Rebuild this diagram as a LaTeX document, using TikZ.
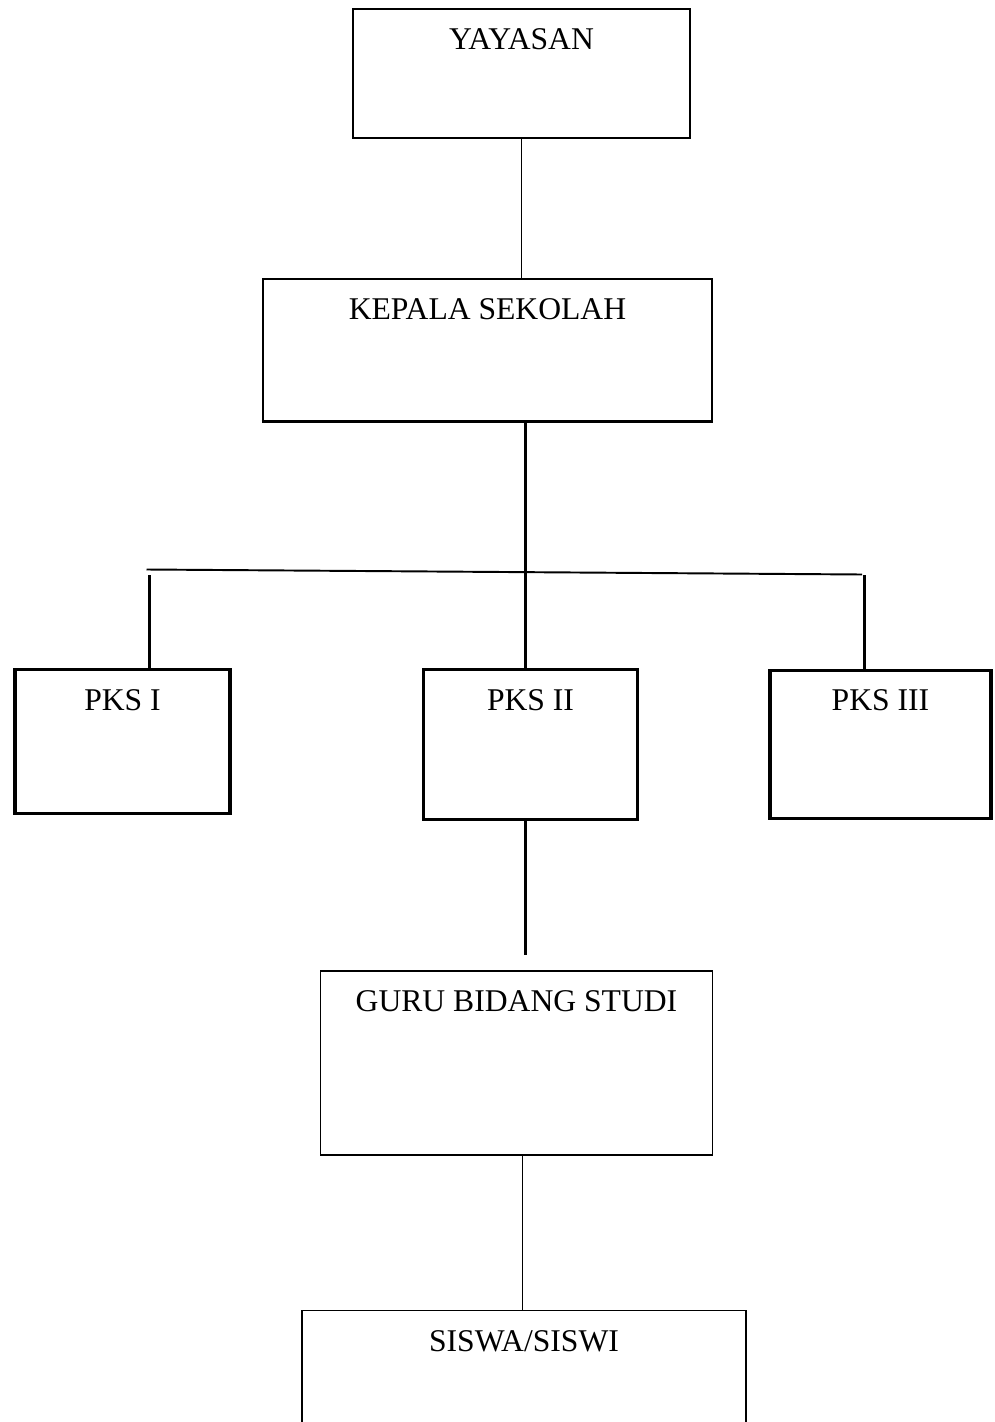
\documentclass[tikz,border=0pt]{standalone}
\usepackage{fontspec}
\setmainfont{Liberation Serif}
\usepackage{tikz}
\usetikzlibrary{positioning,calc}

\tikzset{
  orgbox/.style={draw, inner sep=0pt, line width=1pt, font=\fontsize{18}{22}\selectfont},
  pksbox/.style={orgbox, line width=1.9pt},
  thinline/.style={line width=1pt},
  thickline/.style={line width=1.9pt}
}

\begin{document}
\begin{tikzpicture}
  \clip (0,0) rectangle (19.88,-28.44);
  % boxes
  \node[orgbox, minimum width=6.75cm, text height=0.81cm, text depth=1.76cm] (yayasan) at (10.43,-1.47) {YAYASAN};
  \node[orgbox, minimum width=8.99cm, text height=0.80cm, text depth=2.03cm] (kepala) at (9.75,-7.0) {KEPALA SEKOLAH};
  \node[pksbox, minimum width=4.3cm, text height=0.82cm, text depth=2.05cm] (pks1) at (2.45,-14.83) {PKS I};
  \node[pksbox, minimum width=4.28cm, text height=0.82cm, text depth=2.17cm] (pks2) at (10.61,-14.89) {PKS II};
  \node[pksbox, minimum width=4.42cm, text height=0.81cm, text depth=2.16cm] (pks3) at (17.61,-14.89) {PKS III};
  \node[orgbox, minimum width=7.84cm, text height=0.81cm, text depth=2.87cm] (guru) at (10.33,-21.26) {GURU BIDANG STUDI};
  \node[orgbox, minimum width=8.89cm, text height=0.82cm, text depth=2.0cm] (siswa) at (10.48,-27.62) {SISWA/SISWI};
  \draw[line width=1.6pt] (kepala.south west) -- (kepala.south east);

  % connectors
  \coordinate (trunk) at (10.51,0);
  \coordinate (stem) at (10.45,0);
  \draw[thinline] (yayasan.south) -- (yayasan.south |- kepala.north);
  \draw[thickline] (kepala.south -| trunk) -- (pks2.north -| trunk);
  \coordinate (brL) at (2.93,-11.39);
  \coordinate (brR) at (17.24,-11.49);
  \draw[line width=1.1pt] (brL) -- (brR);
  \coordinate (dropL) at (2.99,-11.5);
  \coordinate (dropR) at (17.29,-11.5);
  \draw[thickline] (dropL) -- (dropL |- pks1.north);
  \draw[thickline] (dropR) -- (dropR |- pks3.north);
  \coordinate (guruend) at (10.51,-19.09);
  \draw[thickline] (pks2.south -| trunk) -- (guruend);
  \draw[thinline] (guru.south -| stem) -- (siswa.north -| stem);
\end{tikzpicture}
\end{document}
